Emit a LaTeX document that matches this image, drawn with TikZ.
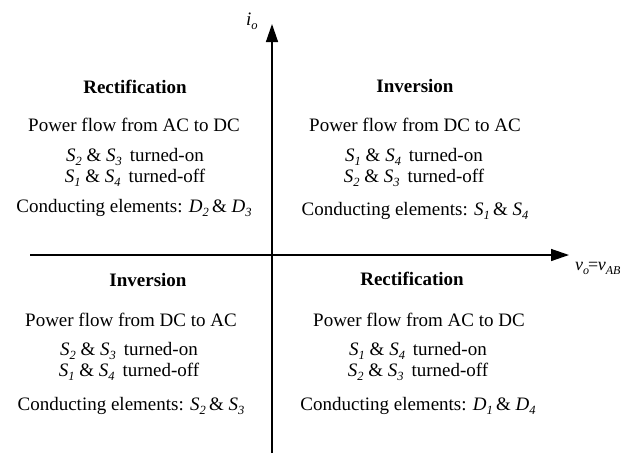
\documentclass[tikz,border=0pt]{standalone}
\usepackage{fontspec}
\setmainfont{Liberation Serif}
\usetikzlibrary{arrows.meta}
% italic symbol with an italic subscript
\newcommand{\isub}[2]{\textit{#1}\raisebox{-0.5ex}{\fontsize{12.5}{12.5}\selectfont\textit{#2}}}
\newcommand{\lsub}[2]{\textit{#1}\raisebox{-0.5ex}{\fontsize{12}{12}\selectfont\textit{#2}}}
\begin{document}
\begin{tikzpicture}[x=1pt,y=-1pt,
  axis/.style={line width=1.4pt,-{Triangle[length=18pt,width=12pt]}},
  body/.style={font=\fontsize{19}{22}\selectfont,inner sep=0pt,anchor=base},
  head/.style={font=\fontsize{19}{22}\selectfont\bfseries,inner sep=0pt,anchor=base}]
\useasboundingbox (0,0) rectangle (624,456);
\fill[white] (0,0) rectangle (624,456);

% axes
\coordinate (vb) at (272,453);
\coordinate (vt) at (272,24);
\coordinate (hl) at (30,255);
\coordinate (hr) at (569,255);
\draw[axis] (vb) -- (vt);
\draw[axis] (hl) -- (hr);
\node[inner sep=0pt,anchor=base west,font=\fontsize{19}{19}\selectfont] (io) at (246,25) {\isub{i}{o}};
\node[inner sep=0pt,anchor=base west,font=\fontsize{18}{18}\selectfont] (vo) at (575,270) {\lsub{v}{o}\kern-1pt=\kern-0.5pt\lsub{v}{AB}};

% upper left quadrant
\node[head] (tlh) at (135,93) {Rectification};
\node[body] (tlp) at (134,131) {Power flow from AC to DC};
\node[body] (tlon) at (135,161) {\isub{S}{2} \& \isub{S}{3}\, turned-on};
\node[body] (tloff) at (135,182) {\isub{S}{1} \& \isub{S}{4}\, turned-off};
\node[body] (tlc) at (134,212) {Conducting elements: \isub{D}{2}\,\& \isub{D}{3}};

% upper right quadrant
\node[head] (trh) at (415,92) {Inversion};
\node[body] (trp) at (415,131) {Power flow from DC to AC};
\node[body] (tron) at (414,161) {\isub{S}{1} \& \isub{S}{4}\, turned-on};
\node[body] (troff) at (414,182) {\isub{S}{2} \& \isub{S}{3}\, turned-off};
\node[body] (trc) at (415,215) {Conducting elements: \isub{S}{1}\,\& \isub{S}{4}};

% lower left quadrant
\node[head] (blh) at (148,286) {Inversion};
\node[body] (blp) at (131,326) {Power flow from DC to AC};
\node[body] (blon) at (129,355) {\isub{S}{2} \& \isub{S}{3}\, turned-on};
\node[body] (bloff) at (129,376) {\isub{S}{1} \& \isub{S}{4}\, turned-off};
\node[body] (blc) at (131,410) {Conducting elements: \isub{S}{2}\,\& \isub{S}{3}};

% lower right quadrant
\node[head] (brh) at (412,285) {Rectification};
\node[body] (brp) at (419,326) {Power flow from AC to DC};
\node[body] (bron) at (418,355) {\isub{S}{1} \& \isub{S}{4}\, turned-on};
\node[body] (broff) at (418,376) {\isub{S}{2} \& \isub{S}{3}\, turned-off};
\node[body] (brc) at (418,410) {Conducting elements: \isub{D}{1}\,\& \isub{D}{4}};
\end{tikzpicture}
\end{document}
